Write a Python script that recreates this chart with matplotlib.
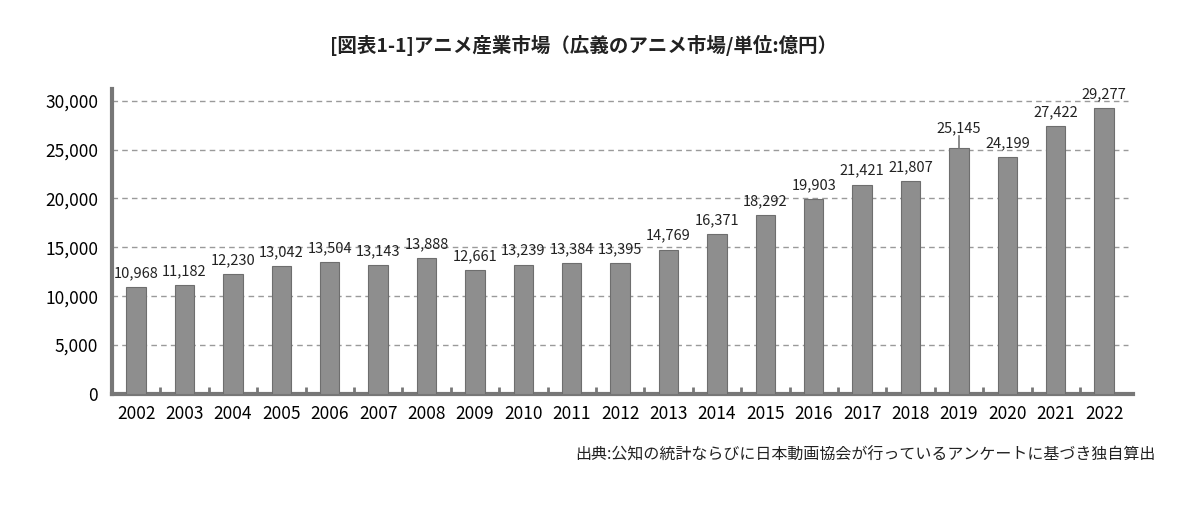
import matplotlib
matplotlib.use('Agg')
import matplotlib.pyplot as plt
from matplotlib.ticker import FuncFormatter, FixedLocator

plt.rcParams['font.family'] = ['Noto Sans CJK JP', 'DejaVu Sans']

years = [str(y) for y in range(2002, 2023)]
values = [10968, 11182, 12230, 13042, 13504, 13143, 13888, 12661, 13239, 13384,
          13395, 14769, 16371, 18292, 19903, 21421, 21807, 25145, 24199, 27422, 29277]

title = '[図表1-1]アニメ産業市場（広義のアニメ市場/単位:億円）'
source = '出典:公知の統計ならびに日本動画協会が行っているアンケートに基づき独自算出'

fig = plt.figure(figsize=(12, 5.08), dpi=100)
ax = fig.add_axes([0.0933, 0.2244, 0.851, 0.6006])

x = list(range(len(years)))
ax.bar(x, values, width=0.4, color='#8e8e8e', edgecolor='#6e6e6e', linewidth=0.8, zorder=3)

ax.set_xlim(-0.5, len(years) - 0.4)
ax.set_ylim(0, 31200)
ax.set_yticks(range(0, 30001, 5000))
ax.yaxis.set_major_formatter(FuncFormatter(lambda v, p: f'{int(v):,}'))
for yv in range(5000, 30001, 5000):
    ax.plot([-0.5, len(years) - 0.5], [yv, yv], color='#9a9a9a', lw=1.0,
            ls=(0, (4, 3)), zorder=1)

ax.set_xticks(x)
ax.set_xticklabels(years)
ax.xaxis.set_minor_locator(FixedLocator([i + 0.5 for i in range(len(years) - 1)]))
ax.tick_params(axis='x', which='major', length=0, labelsize=12.5, pad=8)
ax.tick_params(axis='x', which='minor', direction='in', length=5, width=2, color='#777777')
ax.tick_params(axis='y', length=0, labelsize=12.5, pad=10)

for s in ['top', 'right']:
    ax.spines[s].set_visible(False)
for s in ['left', 'bottom']:
    ax.spines[s].set_color('#777777')
    ax.spines[s].set_linewidth(3)

for i, v in enumerate(values):
    off = 700
    if years[i] == '2019':
        # short leader line above the 2019 bar
        ax.plot([i, i], [v, v + 1200], color='#777777', lw=1.2, zorder=3)
        off = 1300
    ax.text(i, v + off, f'{v:,}', ha='center', va='bottom', fontsize=10.5, color='#222222')

fig.text(0.486, 0.91, title, ha='center', va='center', fontsize=14, fontweight='bold', color='#222222')
fig.text(0.963, 0.104, source, ha='right', va='center', fontsize=11.5, color='#222222')

fig.savefig('out.png', dpi=100)
